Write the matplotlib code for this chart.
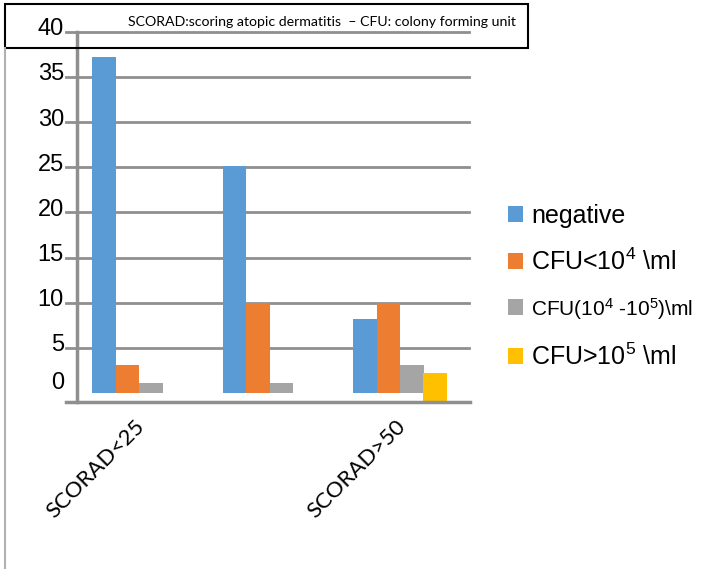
import matplotlib
matplotlib.use("Agg")
import matplotlib.pyplot as plt
from matplotlib.patches import Rectangle, Patch
from matplotlib.lines import Line2D

plt.rcParams["mathtext.fontset"] = "custom"
plt.rcParams["mathtext.rm"] = "Liberation Sans"
plt.rcParams["mathtext.it"] = "Liberation Sans"

# SCORAD groups and CFU counts
categories = ["SCORAD<25", "", "SCORAD>50"]
series_names = ["negative", "CFU<10$^{4}$ \\ml", "CFU(10$^{4}$ -10$^{5}$)\\ml", "CFU>10$^{5}$ \\ml"]
negative = [37.2, 25.2, 8.2]
cfu_low = [3.1, 10.0, 10.0]
cfu_mid = [1.1, 1.1, 3.1]
cfu_high = [0.0, 0.0, 2.2]
yticks = [5, 10, 15, 20, 25, 30, 35, 40]

colors = ["#5B9BD5", "#ED7D31", "#A5A5A5", "#FFC000"]
offsets = [-0.295, -0.115, 0.065, 0.24]
bar_w = 0.18
grid_c = "#8F8F8F"
y_floor = -1.0

W, H = 719, 569
fig = plt.figure(figsize=(W / 100, H / 100), dpi=100)
ax = fig.add_axes([77 / W, (H - 402) / H, 392 / W, 370 / H])

x = list(range(len(categories)))
for i, vals in enumerate([negative, cfu_low, cfu_mid]):
    ax.bar([xi + offsets[i] for xi in x], vals, width=bar_w, color=colors[i], zorder=3)
# the top CFU bars sit on the axis floor
ax.bar([xi + offsets[3] for xi in x], [v - y_floor if v > 0 else 0 for v in cfu_high],
       bottom=y_floor, width=bar_w, color=colors[3], zorder=3)

ax.set_xlim(-0.5, 2.5)
ax.set_ylim(y_floor, 40)

# gridlines (extend left past the axis as tick marks)
for t in yticks:
    ax.plot([-0.585, 2.5], [t, t], color=grid_c, lw=2, clip_on=False, zorder=1)
ax.plot([-0.585, 2.51], [y_floor, y_floor], color=grid_c, lw=2.5, clip_on=False, zorder=4)

ax.set_yticks([])
ax.set_xticks([])
for s in ["top", "right", "bottom"]:
    ax.spines[s].set_visible(False)
ax.spines["left"].set_color(grid_c)
ax.spines["left"].set_linewidth(2.5)

tick_font = ["Liberation Sans Narrow", "Liberation Sans"]
for t in yticks:
    ax.text(-0.6, t + 0.3, str(t), ha="right", va="center", fontsize=17, family=tick_font)
ax.text(-0.6, 1.1, "0", ha="right", va="center", fontsize=17, family=tick_font)

for xi, lab in zip(x, categories):
    if lab:
        ax.text(xi - 0.06, -2.6, lab, rotation=45, ha="right", va="top",
                rotation_mode="anchor", fontsize=16, family="Lato")

# note box across the top
fig.patches.append(Rectangle((5 / W, (H - 48) / H), 523 / W, 44 / H, transform=fig.transFigure,
                             fill=False, edgecolor="black", lw=1.5, zorder=0))
fig.lines.append(Line2D([5 / W, 5 / W], [0, (H - 48) / H], transform=fig.transFigure,
                        color="#B0B0B0", lw=1.5))
fig.text(128 / W, (H - 22) / H, "SCORAD:scoring atopic dermatitis  \u2013 CFU: colony forming unit",
         ha="left", va="center", fontsize=10.2, family="Lato")

handles = [Patch(facecolor=c, edgecolor="none") for c in colors]
leg = fig.legend(handles, series_names, loc="upper left", bbox_to_anchor=(485 / W, (H - 181) / H),
                 frameon=False, prop={"family": "Liberation Sans", "size": 18},
                 handlelength=0.6, handleheight=0.6, handletextpad=0.35, labelspacing=0.85)
leg.get_texts()[2].set_fontsize(15)

fig.savefig("out.png", dpi=100)
